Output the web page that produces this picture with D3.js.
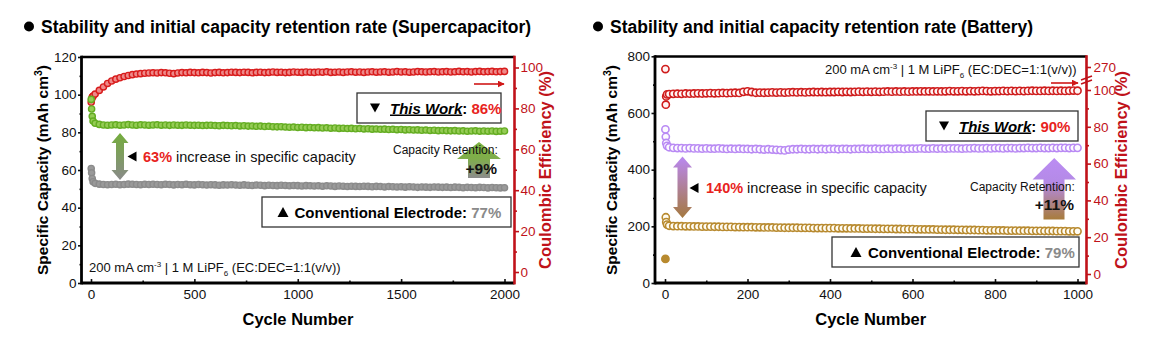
<!DOCTYPE html>
<html><head><meta charset="utf-8">
<script src="https://cdn.jsdelivr.net/npm/d3@7"></script>
<style>body{margin:0;background:#fff}svg{display:block;font-family:"Liberation Sans",Arial,sans-serif}</style>
</head><body><script>
// ---------------- DATA ----------------
// Supercapacitor panel
const scCycles = [1, 3, 6, 10].concat(d3.range(20, 2001, 20));
const scCE = [83, 84.5, 85.5, 86,
  87, 88.8, 90.5, 92.2, 93.4, 94.3, 95.0, 95.6, 96.1, 96.5, 96.8, 97.0, 97.2, 97.3,
  97.4, 97.3, 97.5, 97.4, 97.2, 97.0, 97.3, 97.5, 97.4, 97.6,
  97.5, 97.4, 97.6, 97.5, 97.3, 97.5, 97.6, 97.4, 97.5, 97.7,
  97.6, 97.5, 97.7, 97.6, 97.4, 97.6, 97.7, 97.5, 97.6, 97.8,
  97.6, 97.7, 97.5, 97.6, 97.8, 97.7, 97.6, 97.8, 97.7, 97.6,
  97.8, 97.7, 97.9, 97.6, 97.7, 97.8, 97.6, 97.8, 97.9, 97.7,
  97.8, 97.6, 97.8, 97.9, 97.7, 97.8, 97.9, 97.7, 97.8, 98.0,
  97.8, 97.9, 97.7, 97.8, 98.0, 97.9, 97.8, 97.9, 98.0, 97.8,
  97.9, 98.0, 97.8, 97.9, 98.1, 97.9, 98.0, 97.8, 98.0, 98.1,
  97.9, 98.0, 98.1, 97.9, 98.0, 98.1];
const scThisWork = [97.5, 92.4, 88.5, 86.0,
  84.8, 84.2, 83.9, 83.8, 83.9, 84.0, 83.8, 83.9, 84.1, 83.9, 83.8, 84.0, 83.9, 83.8,
  83.9, 84.0, 83.8, 83.9, 83.7, 83.9, 83.8, 83.7, 83.9, 83.8,
  83.7, 83.8, 83.6, 83.7, 83.8, 83.6, 83.5, 83.7, 83.6, 83.5,
  83.6, 83.4, 83.5, 83.3, 83.4, 83.2, 83.3, 83.1, 83.2, 83.0,
  82.9, 83.0, 82.8, 82.7, 82.8, 82.6, 82.7, 82.5, 82.6, 82.4,
  82.5, 82.3, 82.4, 82.2, 82.3, 82.1, 82.2, 82.0, 82.1, 81.9,
  82.0, 81.8, 81.9, 81.7, 81.8, 81.6, 81.7, 81.5, 81.6, 81.4,
  81.5, 81.3, 81.4, 81.2, 81.3, 81.1, 81.2, 81.0, 81.1, 80.9,
  81.0, 80.9, 80.8, 80.9, 80.7, 80.8, 80.6, 80.7, 80.8, 80.6,
  80.7, 80.6, 80.7, 80.5, 80.6, 80.7];
const scConventional = [60.8, 58.5, 55.5, 53.8,
  52.9, 52.5, 52.3, 52.2, 52.3, 52.4, 52.2, 52.3, 52.5, 52.4, 52.3, 52.2, 52.4, 52.3,
  52.4, 52.3, 52.2, 52.4, 52.3, 52.1, 52.3, 52.2, 52.4, 52.2,
  52.1, 52.3, 52.2, 52.0, 52.2, 52.1, 51.9, 52.1, 52.0, 52.2,
  52.0, 51.9, 52.1, 51.9, 51.8, 52.0, 51.9, 51.7, 51.9, 51.8,
  51.7, 51.9, 51.8, 51.6, 51.8, 51.7, 51.5, 51.7, 51.6, 51.5,
  51.6, 51.4, 51.6, 51.5, 51.3, 51.5, 51.4, 51.2, 51.4, 51.3,
  51.2, 51.4, 51.3, 51.1, 51.3, 51.2, 51.0, 51.2, 51.1, 51.0,
  51.1, 50.9, 51.1, 51.0, 50.8, 51.0, 50.9, 50.8, 51.0, 50.9,
  50.8, 50.9, 50.7, 50.9, 50.8, 50.6, 50.8, 50.7, 50.6, 50.8,
  50.7, 50.5, 50.7, 50.6, 50.5, 50.6];
const scXTicks = [0, 500, 1000, 1500, 2000];
const scXMinor = [250, 750, 1250, 1750];
const scYTicks = [0, 20, 40, 60, 80, 100, 120];
const scYMinor = [10, 30, 50, 70, 90, 110];
const scCETicks = [0, 20, 40, 60, 80, 100];
const scCEMinor = [10, 30, 50, 70, 90];

// Battery panel
const btCycles = [1, 2, 3, 5].concat(d3.range(10, 1001, 10));
const btCE = [255, 92, 96.5, 97.6,
  97.8, 97.9, 98.0, 97.9, 98.1, 98.0, 98.1, 98.2, 98.1, 98.2,
  98.3, 98.2, 98.3, 98.4, 98.3, 98.4, 98.5, 98.4, 99.0, 99.3,
  98.9, 98.5, 98.6, 98.5, 98.6, 98.7, 98.6, 98.7, 98.6, 98.7,
  98.8, 98.7, 98.8, 98.7, 98.8, 98.9, 98.8, 98.9, 98.8, 98.9,
  98.9, 99.0, 98.9, 99.0, 98.9, 99.0, 99.1, 99.0, 99.1, 99.0,
  99.1, 99.0, 99.1, 99.2, 99.1, 99.2, 99.1, 99.2, 99.1, 99.2,
  99.2, 99.3, 99.2, 99.3, 99.2, 99.3, 99.2, 99.3, 99.4, 99.3,
  99.3, 99.4, 99.3, 99.4, 99.3, 99.4, 99.5, 99.4, 99.3, 99.4,
  99.4, 99.5, 99.4, 99.5, 99.4, 99.5, 99.4, 99.5, 99.6, 99.5,
  99.5, 99.6, 99.5, 99.6, 99.5, 99.6, 99.5, 99.6, 99.7, 99.6];
const btThisWork = [542, 516, 494, 484,
  479, 477, 476, 476, 475, 476, 475, 475, 474, 475,
  474, 474, 475, 474, 473, 474, 473, 474, 473, 473,
  472, 473, 472, 471, 472, 471, 470, 469, 468, 471,
  472, 472, 473, 472, 472, 473, 472, 473, 472, 473,
  473, 472, 473, 473, 472, 473, 473, 474, 473, 473,
  474, 473, 473, 474, 473, 474, 474, 473, 474, 474,
  474, 475, 474, 474, 475, 474, 475, 474, 475, 475,
  475, 474, 475, 475, 476, 475, 475, 476, 475, 476,
  476, 475, 476, 476, 475, 476, 476, 477, 476, 476,
  477, 476, 476, 477, 476, 477, 477, 476, 477, 477];
const btConventional = [85, 232, 215, 206,
  202, 201, 200.5, 200.5, 200, 200, 199.5, 199.5, 199, 199,
  199, 198.5, 198.5, 198, 198, 198, 197.5, 197.5, 197, 197,
  197, 196.5, 196.5, 196, 196, 196, 195.5, 195.5, 195, 195,
  195, 195, 194.5, 194.5, 194.5, 194, 194, 194, 193.5, 193.5,
  193.5, 193, 193, 193, 192.5, 192.5, 192.5, 192, 192, 192,
  191.5, 191.5, 191, 191, 191, 190.5, 190.5, 190, 190, 190,
  189.5, 189.5, 189, 189, 189, 188.5, 188.5, 188, 188, 188,
  187.5, 187.5, 187, 187, 187, 186.5, 186.5, 186, 186, 186,
  185.5, 185.5, 185, 185, 185, 184.5, 184.5, 184.5, 184, 184,
  184, 183.5, 183.5, 183.5, 183, 183, 183, 182.5, 182.5, 182.5];
const btXTicks = [0, 200, 400, 600, 800, 1000];
const btXMinor = [100, 300, 500, 700, 900];
const btYTicks = [0, 200, 400, 600, 800];
const btYMinor = [100, 300, 500, 700];
const btCETicks = [0, 20, 40, 60, 80, 100, 270];
const btCEMinor = [10, 30, 50, 70, 90];

// ---------------- DRAW ----------------
const W = 1156, H = 348;
const svg = d3.select("body").append("svg").attr("width", W).attr("height", H);
const defs = svg.append("defs");
function grad(id, c1, c2, mid) {
  const g = defs.append("linearGradient").attr("id", id).attr("x1", 0).attr("y1", 0).attr("x2", 0).attr("y2", 1);
  g.append("stop").attr("offset", "0%").attr("stop-color", c1);
  if (mid) g.append("stop").attr("offset", mid[0]).attr("stop-color", mid[1]);
  g.append("stop").attr("offset", "100%").attr("stop-color", c2);
}
grad("gDblG", "#74ad3c", "#8a8a8a");
grad("gUpG", "#7db443", "#8c8c8c", ["45%", "#7fae4a"]);
grad("gDblP", "#b988f2", "#a5793f");
grad("gUpP", "#bb8cf3", "#a87c3c", ["40%", "#b48ae6"]);
defs.append("marker").attr("id", "arrR").attr("viewBox", "0 0 10 10").attr("refX", 9).attr("refY", 5)
  .attr("markerWidth", 7).attr("markerHeight", 7).attr("markerUnits", "userSpaceOnUse").attr("orient", "auto")
  .append("path").attr("d", "M0,0L10,5L0,10z").attr("fill", "#d01818");

const AXRED = "#c0121a";
const fmt = d3.format("d");

function tri(g, cx, cy, s, dir, fill) {
  const h = s * 0.9;
  let d;
  if (dir === "down") d = `M${cx - s / 2},${cy - h / 2}L${cx + s / 2},${cy - h / 2}L${cx},${cy + h / 2}Z`;
  else if (dir === "up") d = `M${cx - s / 2},${cy + h / 2}L${cx + s / 2},${cy + h / 2}L${cx},${cy - h / 2}Z`;
  else d = `M${cx + h / 2},${cy - s / 2}L${cx + h / 2},${cy + s / 2}L${cx - h / 2},${cy}Z`;
  g.append("path").attr("d", d).attr("fill", fill || "#000");
}

function panel(o) {
  const g = svg.append("g");
  const x = d3.scaleLinear().domain(o.xDom).range(o.xRange);
  const yL = d3.scaleLinear().domain(o.yLDom).range(o.yLRange);
  const yR = d3.scaleLinear().domain(o.yRDom).range(o.yRRange);

  // Title
  g.append("circle").attr("cx", o.titleX - 12).attr("cy", 26.5).attr("r", 5).attr("fill", "#000");
  g.append("text").attr("x", o.titleX).attr("y", 32.5).attr("font-size", 17.5).attr("font-weight", "bold")
    .attr("fill", "#000").text(o.title);

  // Axes
  const styleAxis = (sel, col) => {
    sel.select(".domain").remove();
    sel.selectAll("line").attr("stroke", col).attr("stroke-width", 1.6);
    sel.selectAll("text").attr("fill", col).attr("font-size", 13.5).attr("font-family", '"Liberation Sans",Arial,sans-serif');
  };
  g.append("g").attr("transform", `translate(0,${o.bottom})`)
    .call(d3.axisBottom(x).tickValues(o.xTicks).tickFormat(fmt).tickSizeInner(-4).tickSizeOuter(0).tickPadding(6))
    .call(s => styleAxis(s, "#111"));
  g.append("g").attr("transform", `translate(0,${o.bottom})`)
    .call(d3.axisBottom(x).tickValues(o.xMinor).tickSizeInner(-2.5).tickSizeOuter(0).tickFormat(() => ""))
    .call(s => styleAxis(s, "#111"));
  g.append("g").attr("transform", `translate(${o.left},0)`)
    .call(d3.axisLeft(yL).tickValues(o.yTicks).tickFormat(fmt).tickSizeInner(3.5).tickSizeOuter(0).tickPadding(1.5))
    .call(s => styleAxis(s, "#111"));
  g.append("g").attr("transform", `translate(${o.left},0)`)
    .call(d3.axisLeft(yL).tickValues(o.yMinor).tickSizeInner(2).tickSizeOuter(0).tickFormat(() => ""))
    .call(s => styleAxis(s, "#111"));
  g.append("g").attr("transform", `translate(${o.right},0)`)
    .call(d3.axisRight(yR).tickValues(o.ceTicks).tickFormat(fmt).tickSizeInner(4.5).tickSizeOuter(0).tickPadding(o.rPad))
    .call(s => styleAxis(s, AXRED));
  g.append("g").attr("transform", `translate(${o.right},0)`)
    .call(d3.axisRight(yR).tickValues(o.ceMinor).tickSizeInner(2.5).tickSizeOuter(0).tickFormat(() => ""))
    .call(s => styleAxis(s, AXRED));

  // Data series
  const series = [
    { v: o.ce, y: yR, stroke: o.ceStroke, fill: o.ceFill },
    { v: o.tw, y: yL, stroke: o.twStroke, fill: o.twFill },
    { v: o.cv, y: yL, stroke: o.cvStroke, fill: o.cvFill, firstFill: o.cvFirstFill }
  ];
  series.forEach(s => {
    g.append("g").selectAll("circle").data(o.cycles.map((c, i) => [c, s.v[i], i])).join("circle")
      .attr("cx", d => x(d[0])).attr("cy", d => s.y(d[1])).attr("r", o.r)
      .attr("fill", d => (d[2] === 0 && s.firstFill) ? s.firstFill : s.fill)
      .attr("stroke", s.stroke).attr("stroke-width", o.sw);
  });

  // Frame
  g.append("line").attr("x1", o.left).attr("x2", o.right).attr("y1", o.top).attr("y2", o.top).attr("stroke", "#000").attr("stroke-width", 2.6);
  g.append("line").attr("x1", o.left).attr("x2", o.right).attr("y1", o.bottom).attr("y2", o.bottom).attr("stroke", "#000").attr("stroke-width", 2.8);
  g.append("line").attr("x1", o.left).attr("x2", o.left).attr("y1", o.top - 1.3).attr("y2", o.bottom + 1.4).attr("stroke", "#000").attr("stroke-width", 2.8);
  g.append("line").attr("x1", o.right).attr("x2", o.right).attr("y1", o.top - 1.3).attr("y2", o.bottom + 1.4).attr("stroke", AXRED).attr("stroke-width", 2.6);

  // Axis titles
  g.append("text").attr("x", (o.left + o.right) / 2).attr("y", 324.5).attr("text-anchor", "middle")
    .attr("font-size", 16.5).attr("font-weight", "bold").text("Cycle Number");
  const yl = g.append("text").attr("transform", `translate(${o.leftLabelX},170) rotate(-90)`).attr("text-anchor", "middle")
    .attr("font-size", 15.5).attr("font-weight", "bold").attr("fill", "#000");
  yl.append("tspan").text("Specific Capacity (mAh cm");
  yl.append("tspan").attr("dy", -6).attr("font-size", 10.5).text("3");
  yl.append("tspan").attr("dy", 6).text(")");
  g.append("text").attr("transform", `translate(${o.rightLabelX},170) rotate(-90)`).attr("text-anchor", "middle")
    .attr("font-size", 16.5).attr("font-weight", "bold").attr("fill", AXRED).text("Coulombic Efficiency (%)");
  return { g, x, yL, yR };
}

function condText(g, x, y) {
  const t = g.append("text").attr("x", x).attr("y", y).attr("font-size", 13).attr("fill", "#111");
  t.append("tspan").text("200 mA cm");
  t.append("tspan").attr("dy", -5).attr("font-size", 8).text("-3");
  t.append("tspan").attr("dy", 5).text(" | 1 M LiPF");
  t.append("tspan").attr("dy", 4).attr("font-size", 8).text("6");
  t.append("tspan").attr("dy", -4).text(" (EC:DEC=1:1(v/v))");
}

function box(g, x0, x1, y0, y1) {
  g.append("rect").attr("x", x0).attr("y", y0).attr("width", x1 - x0).attr("height", y1 - y0)
    .attr("fill", "#fff").attr("stroke", "#333").attr("stroke-width", 1.3);
}

function thisWork(g, tx, ty, pct) {
  const t = g.append("text").attr("x", tx).attr("y", ty).attr("font-size", 15).attr("font-weight", "bold");
  t.append("tspan").attr("font-style", "italic").attr("text-decoration", "underline").text("This Work");
  t.append("tspan").text(": ");
  t.append("tspan").attr("fill", "#e8231d").text(pct);
}
function conv(g, tx, ty, pct) {
  const t = g.append("text").attr("x", tx).attr("y", ty).attr("font-size", 15).attr("font-weight", "bold");
  t.append("tspan").text("Conventional Electrode: ");
  t.append("tspan").attr("fill", "#8a8a8a").text(pct);
}
function incText(g, tx, ty, pct) {
  const t = g.append("text").attr("x", tx).attr("y", ty).attr("font-size", 14.5);
  t.append("tspan").attr("font-weight", "bold").attr("fill", "#e8231d").text(pct);
  t.append("tspan").attr("fill", "#111").text(" increase in specific capacity");
}
function dblArrow(g, cx, top, bot, hw, sw, hl, fill) {
  const d = `M${cx},${top}L${cx + hw},${top + hl}L${cx + sw},${top + hl}L${cx + sw},${bot - hl}L${cx + hw},${bot - hl}` +
    `L${cx},${bot}L${cx - hw},${bot - hl}L${cx - sw},${bot - hl}L${cx - sw},${top + hl}L${cx - hw},${top + hl}Z`;
  g.append("path").attr("d", d).attr("fill", fill);
}
function upArrow(g, x0, x1, sx0, sx1, tip, base, bot, fill) {
  const cx = (x0 + x1) / 2;
  const d = `M${cx},${tip}L${x1},${base}L${sx1},${base}L${sx1},${bot}L${sx0},${bot}L${sx0},${base}L${x0},${base}Z`;
  g.append("path").attr("d", d).attr("fill", fill);
}

// ---- Supercapacitor ----
const A = panel({
  title: "Stability and initial capacity retention rate (Supercapacitor)", titleX: 41,
  left: 81.5, right: 514.5, top: 57, bottom: 283,
  xDom: [0, 2000], xRange: [91, 504.5],
  yLDom: [0, 120], yLRange: [283, 57],
  yRDom: [0, 100], yRRange: [272, 67.5],
  xTicks: scXTicks, xMinor: scXMinor, yTicks: scYTicks, yMinor: scYMinor, ceTicks: scCETicks, ceMinor: scCEMinor,
  rPad: 1.5,
  cycles: scCycles, ce: scCE, tw: scThisWork, cv: scConventional,
  ceStroke: "#d81c1c", ceFill: "#ee8a8a", twStroke: "#64ad22", twFill: "#95cc55", cvStroke: "#8b8b8b", cvFill: "#9a9a9a",
  r: 3.1, sw: 1.4, leftLabelX: 48, rightLabelX: 551
});
{
  const g = A.g;
  box(g, 357, 501, 93, 123);
  tri(g, 375, 108, 10, "down");
  thisWork(g, 390, 113.5, "86%");
  box(g, 262, 511, 197, 227);
  tri(g, 283, 212, 11, "up");
  conv(g, 294.5, 217.5, "77%");
  g.append("line").attr("x1", 474).attr("x2", 504).attr("y1", 84).attr("y2", 84)
    .attr("stroke", "#d01818").attr("stroke-width", 1.6).attr("marker-end", "url(#arrR)");
  dblArrow(g, 120, 133, 180, 8.5, 4, 10, "url(#gDblG)");
  tri(g, 132, 156.5, 10, "left");
  incText(g, 143, 161.5, "63%");
  upArrow(g, 457, 501, 468, 490, 142, 159, 178, "url(#gUpG)");
  g.append("text").attr("x", 393).attr("y", 154).attr("font-size", 12).attr("fill", "#111").text("Capacity Retention:");
  g.append("text").attr("x", 497).attr("y", 174).attr("text-anchor", "end").attr("font-size", 15.5)
    .attr("font-weight", "bold").attr("fill", "#111").text("+9%");
  condText(g, 89, 272);
}

// ---- Battery ----
const B = panel({
  title: "Stability and initial capacity retention rate (Battery)", titleX: 610,
  left: 655, right: 1086.5, top: 56.5, bottom: 283,
  xDom: [0, 1000], xRange: [665, 1077.5],
  yLDom: [0, 800], yLRange: [283, 56.3],
  yRDom: [0, 100, 270], yRRange: [274, 90, 67],
  xTicks: btXTicks, xMinor: btXMinor, yTicks: btYTicks, yMinor: btYMinor, ceTicks: btCETicks, ceMinor: btCEMinor,
  rPad: 2.5,
  cycles: btCycles, ce: btCE, tw: btThisWork, cv: btConventional,
  ceStroke: "#cf1c1c", ceFill: "#fff4f4", twStroke: "#b98af4", twFill: "#fdfaff", cvStroke: "#b88a2f", cvFill: "#fffcf2",
  cvFirstFill: "#b88a2f",
  r: 3.6, sw: 1.6, leftLabelX: 617, rightLabelX: 1127
});
{
  const g = B.g;
  condText(g, 825, 74);
  // axis break
  g.append("line").attr("x1", 1081).attr("x2", 1092).attr("y1", 80).attr("y2", 76).attr("stroke", AXRED).attr("stroke-width", 1.6);
  g.append("line").attr("x1", 1081).attr("x2", 1092).attr("y1", 84).attr("y2", 80).attr("stroke", AXRED).attr("stroke-width", 1.6);
  g.append("line").attr("x1", 1051).attr("x2", 1078).attr("y1", 83).attr("y2", 83)
    .attr("stroke", "#d01818").attr("stroke-width", 1.6).attr("marker-end", "url(#arrR)");
  box(g, 926, 1078, 111, 141);
  tri(g, 944, 126, 10, "down");
  thisWork(g, 959, 131.5, "90%");
  box(g, 832, 1079, 237, 267);
  tri(g, 856, 252, 11, "up");
  conv(g, 868, 257.5, "79%");
  dblArrow(g, 682.5, 156.5, 218, 9.5, 5, 11, "url(#gDblP)");
  tri(g, 694, 188, 10, "left");
  incText(g, 706, 193, "140%");
  upArrow(g, 1032.5, 1076, 1043.5, 1064.5, 158, 179.5, 219.5, "url(#gUpP)");
  g.append("text").attr("x", 970).attr("y", 190.5).attr("font-size", 12).attr("fill", "#111").text("Capacity Retention:");
  g.append("text").attr("x", 1074).attr("y", 210).attr("text-anchor", "end").attr("font-size", 15.5)
    .attr("font-weight", "bold").attr("fill", "#111").text("+11%");
}
</script></body></html>
